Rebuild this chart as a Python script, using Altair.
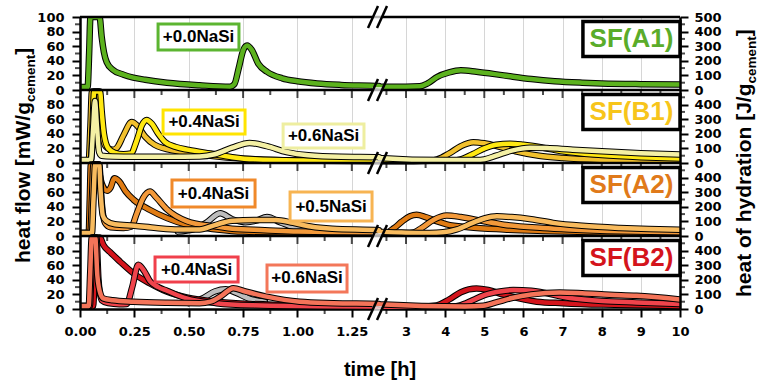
import altair as alt
import pandas as pd

FONT = "Liberation Sans"
TICK_FONT = "DejaVu Sans"

# ---------------- data: time [h] / heat flow [mW/g_cement] ----------------
# SF(A1) +0.0NaSi
a1_00_t = [0, 0.035, 0.042, 0.048, 0.09, 0.1, 0.11, 0.123, 0.15, 0.2, 0.245, 0.3, 0.4, 0.55, 0.69,
           0.71, 0.73, 0.75, 0.768, 0.79, 0.82, 0.86, 0.93, 1.0, 1.09, 1.2, 1.375,
           2.31, 3.0, 3.35, 3.55, 3.8, 4.1, 4.4, 4.8, 5.5, 6.2, 6.8, 7.5, 8.0, 9.0, 10]
a1_00_v = [4, 4, 50, 100, 100, 72, 52, 38, 28, 21, 17, 14, 10, 6.5, 4.5,
           8, 30, 54, 61, 55, 36, 25, 16, 12, 9, 7, 5.5,
           4.5, 4.5, 5, 9, 18, 24, 27, 25, 20, 15, 12, 10, 9, 8, 7.5]

# SF(B1)
b1_00_t = [0, 0.04, 0.048, 0.055, 0.085, 0.095, 0.105, 0.12, 0.15, 0.17, 0.2, 0.238, 0.26, 0.3, 0.343,
           0.45, 0.6, 0.75, 0.9, 1.1, 1.375,
           2.31, 3.2, 3.6, 3.8, 4.1, 4.4, 4.72, 5.0, 5.4, 5.8, 6.4, 7.0, 8.0, 9.0, 10]
b1_00_v = [3, 3, 50, 98, 98, 60, 35, 22, 18, 21, 38, 56, 52, 36, 25,
           16, 10, 6, 4, 3, 2.5,
           2.5, 2.5, 3, 5, 13, 23, 28.5, 27, 22, 16, 10, 7, 4.5, 3.5, 3]
b1_04_t = [0, 0.05, 0.058, 0.065, 0.092, 0.1, 0.11, 0.13, 0.16, 0.2, 0.235, 0.26, 0.285, 0.306, 0.33,
           0.36, 0.39, 0.44, 0.5, 0.6, 0.7, 0.8, 1.0, 1.375,
           2.31, 3.5, 4.2, 4.4, 4.7, 5.0, 5.3, 5.66, 6.0, 6.5, 7.0, 8.0, 9.0, 10]
b1_04_v = [3, 3, 50, 98, 98, 70, 40, 20, 14, 12, 13, 30, 52, 59, 54,
           40, 29, 22, 18, 13, 8, 5, 3.5, 3,
           3, 3, 3.5, 5, 12, 20, 25, 26.5, 25, 21, 16, 11, 8, 6]
b1_06_t = [0, 0.05, 0.06, 0.069, 0.078, 0.088, 0.1, 0.15, 0.25, 0.4, 0.55, 0.62, 0.7, 0.78, 0.86,
           0.95, 1.05, 1.2, 1.375,
           2.31, 4.0, 4.8, 5.0, 5.3, 5.7, 6.17, 6.6, 7.2, 8.0, 9.0, 10]
b1_06_v = [4, 4, 45, 85, 50, 15, 10, 9, 8.5, 8.5, 9, 12, 21, 27.5, 23,
           15, 10.5, 8.5, 8,
           7, 4, 4, 5, 10, 17, 21, 20.5, 18.5, 16, 13.5, 11.5]

# SF(A2)
a2_ref_t = [0.45, 0.52, 0.58, 0.645, 0.7, 0.76, 0.81, 0.86, 0.92, 1.0, 1.1]
a2_ref_v = [6, 9, 18, 31, 23, 19, 21, 26, 19, 10, 6]
a2_00_t = [0, 0.04, 0.045, 0.05, 0.08, 0.09, 0.1, 0.125, 0.14, 0.158, 0.18, 0.21, 0.245, 0.32, 0.4,
           0.49, 0.63, 0.75, 1.0, 1.375,
           2.31, 2.5, 2.7, 2.9, 3.1, 3.27, 3.5, 3.8, 4.04, 4.6, 5.5, 6.5, 8.0, 10]
a2_00_v = [4, 4, 50, 98, 98, 85, 72, 62, 66, 79, 75, 61, 50, 36, 24.5,
           15.5, 9, 6, 5, 4.5,
           4, 4.5, 11, 20, 27, 29, 26, 20, 16, 12, 9, 7, 5, 4]
a2_04_t = [0, 0.048, 0.055, 0.062, 0.088, 0.1, 0.115, 0.14, 0.2, 0.237, 0.26, 0.29, 0.322, 0.35, 0.4,
           0.49, 0.61, 0.7, 0.85, 1.0, 1.375,
           2.31, 3.0, 3.2, 3.4, 3.7, 4.04, 4.4, 5.0, 5.5, 6.5, 7.2, 8.5, 10]
a2_04_v = [4, 4, 50, 98, 98, 45, 18, 12, 11, 13, 30, 52, 61, 53, 36.5,
           20.5, 13.5, 10, 8, 6, 5,
           4, 4, 5, 11, 22, 28, 26, 20, 15.5, 11, 9, 6.5, 5]
a2_05_t = [0, 0.055, 0.062, 0.07, 0.088, 0.095, 0.105, 0.12, 0.16, 0.25, 0.35, 0.45, 0.55, 0.62, 0.7,
           0.8, 0.9, 0.98, 1.06, 1.16, 1.375,
           2.31, 3.0, 3.6, 3.95, 4.3, 4.7, 5.0, 5.32, 5.7, 6.2, 6.76, 7.5, 8.46, 9.2, 10]
a2_05_v = [4, 4, 50, 98, 98, 60, 28, 21, 16, 14, 11, 9, 9, 15, 21,
           22, 22, 18, 13, 10, 8,
           6, 4.5, 4, 5, 9, 18, 24, 27, 26, 23, 18, 14, 11, 9.5, 8.5]

# SF(B2)
b2_ref_t = [0.5, 0.56, 0.62, 0.67, 0.72, 0.78, 0.85]
b2_ref_v = [8, 14, 24, 27, 22, 14, 10]
b2_00_t = [0, 0.06, 0.068, 0.076, 0.092, 0.107, 0.138, 0.184, 0.245, 0.322, 0.398, 0.49, 0.628, 0.78, 1.0, 1.375,
           2.31, 3.4, 3.78, 4.1, 4.4, 4.8, 5.1, 5.48, 6.34, 7.0, 8.03, 9.0, 10]
b2_00_v = [4, 4, 50, 98, 98, 88, 78, 65, 49, 35, 24, 16, 10, 7, 5, 4,
           3.5, 3.5, 5, 13, 23, 28, 26, 20, 10, 8, 6, 5, 4]
b2_04_t = [0, 0.045, 0.052, 0.06, 0.075, 0.085, 0.1, 0.13, 0.18, 0.215, 0.24, 0.268, 0.295, 0.322, 0.36,
           0.4, 0.49, 0.628, 0.8, 1.0, 1.375,
           2.31, 3.8, 4.2, 4.38, 4.7, 5.0, 5.4, 5.74, 6.2, 7.19, 8.0, 8.89, 10]
b2_04_v = [4, 4, 50, 98, 98, 40, 12, 8, 6.5, 7, 30, 60.5, 52, 38, 30,
           25, 14.5, 8, 5, 4, 3.5,
           3, 3, 3.5, 5, 12, 19, 24, 26, 25, 15, 11, 9, 7]
b2_06_t = [0, 0.04, 0.047, 0.054, 0.07, 0.08, 0.095, 0.107, 0.15, 0.245, 0.4, 0.55, 0.6, 0.65, 0.705,
           0.76, 0.858, 1.01, 1.165, 1.375,
           2.31, 4.5, 4.97, 5.3, 5.7, 6.2, 6.93, 7.5, 8.2, 8.89, 10]
b2_06_v = [4, 4, 50, 98, 98, 45, 20, 14.5, 12, 10, 8.5, 8, 10, 18, 28.5,
           24, 17, 10, 8, 7,
           6.5, 3.5, 4.5, 9, 15, 20, 22.5, 21.5, 19.5, 18, 13]

# ---------------- labels ----------------
panel_names = ["SF(A1)", "SF(B1)", "SF(A2)", "SF(B2)"]
panel_keys = ["A1", "B1", "A2", "B2"]
panel_offset = {"A1": 300, "B1": 200, "A2": 100, "B2": 0}

nasi_text = ["+0.0NaSi", "+0.4NaSi", "+0.6NaSi", "+0.4NaSi", "+0.5NaSi", "+0.4NaSi", "+0.6NaSi"]
nasi_panel = ["A1", "B1", "B1", "A2", "A2", "B2", "B2"]

x_major = [0, 0.25, 0.5, 0.75, 1.0, 1.25, 3, 4, 5, 6, 7, 8, 9, 10]
x_minor = [0.125, 0.375, 0.625, 0.875, 1.125, 2.5, 3.5, 4.5, 5.5, 6.5, 7.5, 8.5, 9.5]
y_major = list(range(0, 401, 20))
y_minor = list(range(10, 400, 20))

# ---------------- styling / layout ----------------
series = [
    ("A1", a1_00_t, a1_00_v, "#5cb21e"),
    ("B1", b1_00_t, b1_00_v, "#f2c12e"),
    ("B1", b1_04_t, b1_04_v, "#ffe812"),
    ("B1", b1_06_t, b1_06_v, "#f4f0a4"),
    ("A2", a2_ref_t, a2_ref_v, "#bdbdbd"),
    ("A2", a2_00_t, a2_00_v, "#e07c14"),
    ("A2", a2_04_t, a2_04_v, "#f3993a"),
    ("A2", a2_05_t, a2_05_v, "#f8bb5e"),
    ("B2", b2_ref_t, b2_ref_v, "#bdbdbd"),
    ("B2", b2_00_t, b2_00_v, "#d4141c"),
    ("B2", b2_04_t, b2_04_v, "#f0444c"),
    ("B2", b2_06_t, b2_06_v, "#f47459"),
]
for _, t, v, _c in series:
    assert len(t) == len(v), (len(t), len(v))

panel_colors = ["#5aac2a", "#f7c51b", "#e07a1a", "#d4141c"]
nasi_border = ["#5cb531", "#ffe400", "#eeeea0", "#f0892a", "#f7b452", "#f0404c", "#f3775a"]
nasi_t0 = [0.359, 0.382, 0.934, 0.423, 0.966, 0.345, 0.86]
nasi_t1 = [0.731, 0.759, 1.306, 0.805, 1.343, 0.727, 1.228]
nasi_v0 = [54.8, 39.7, 20.5, 39.7, 20.5, 37, 23.3]
nasi_v1 = [90.4, 72.6, 53.4, 76.7, 60.3, 71.2, 60.3]

x_scale = alt.Scale(domain=[0, 1.375, 2.31, 10], range=[0, 299, 299, 600], zero=False, nice=False)
y_scale = alt.Scale(domain=[0, 400], zero=False, nice=False)

lab_common = dict(labelFont=TICK_FONT, labelFontSize=13, labelFontWeight="bold", labelColor="black",
                  labelOverlap=False, labelFlush=False, domainColor="black", domainWidth=2.5,
                  tickColor="black", tickWidth=2, title=None)
x_axis = alt.Axis(values=x_major,
                  labelExpr="datum.value < 2 ? format(datum.value, '.2f') : format(datum.value, 'd')",
                  grid=True, gridColor="#d6d6d6", gridWidth=1, tickSize=8, labelPadding=8, **lab_common)
yl_axis = alt.Axis(values=y_major, orient="left",
                   labelExpr="datum.value == 400 ? '100' : format(datum.value % 100, 'd')",
                   grid=False, tickSize=8, labelPadding=8, zindex=1, **lab_common)
yr_axis = alt.Axis(values=y_major, orient="right",
                   labelExpr="datum.value == 400 ? '500' : format((datum.value % 100) * 5, 'd')",
                   grid=False, tickSize=8, labelPadding=6, zindex=1, **lab_common)


def xenc(field="t"):
    return alt.X(f"{field}:Q", scale=x_scale, axis=x_axis)


def yenc(field="y"):
    return alt.Y(f"{field}:Q", scale=y_scale, axis=yl_axis)


L = []
# curves: black outline then coloured band
for panel, t, v, col in series:
    df = pd.DataFrame({"t": t, "v": v, "off": panel_offset[panel]})
    base = alt.Chart(df).transform_calculate(y="datum.v + datum.off").encode(x=xenc(), y=yenc())
    L.append(base.mark_line(color="black", strokeWidth=6.5, interpolate="monotone", clip=True,
                            strokeJoin="round", strokeCap="round"))
    L.append(base.mark_line(color=col, strokeWidth=4.5, interpolate="monotone", clip=True,
                            strokeJoin="round", strokeCap="round"))

# panel borders
border_df = pd.DataFrame({"y": [100, 200, 300, 400], "t": 0, "t2": 10})
L.append(alt.Chart(border_df).mark_rule(color="black", strokeWidth=2.5)
         .encode(x=xenc(), x2="t2:Q", y=yenc()))

# ticks at the panel boundaries (pointing down) and minor ticks
bmaj = pd.DataFrame([(t, y) for y in [100, 200, 300] for t in x_major if 0 < t < 10], columns=["t", "y"])
L.append(alt.Chart(bmaj).mark_tick(orient="vertical", size=8, thickness=2, color="black", yOffset=4)
         .encode(x=xenc(), y=yenc()))
bmin = pd.DataFrame([(t, y) for y in [0, 100, 200, 300] for t in x_minor], columns=["t", "y"])
L.append(alt.Chart(bmin).mark_tick(orient="vertical", size=5, thickness=2, color="black", yOffset=2.5)
         .encode(x=xenc(), y=yenc()))
lmin = pd.DataFrame({"t": 0, "y": y_minor})
L.append(alt.Chart(lmin).mark_tick(orient="horizontal", size=5, thickness=2, color="black", xOffset=-2.5)
         .encode(x=xenc(), y=yenc()))

# axis break marks
brk = pd.DataFrame({"t": 1.375, "y": [0, 100, 200, 300, 400]})
L.append(alt.Chart(brk).mark_tick(orient="horizontal", size=10, thickness=6, color="white", xOffset=-1.5)
         .encode(x=xenc(), y=yenc()))
for xo, x2o in [(-11, -1), (-2, 8)]:
    L.append(alt.Chart(brk).mark_rule(color="black", strokeWidth=2.5, xOffset=xo, x2Offset=x2o,
                                      yOffset=11, y2Offset=-11)
             .encode(x=xenc(), x2="t:Q", y=yenc(), y2="y:Q"))

# NaSi label boxes
nasi_df = pd.DataFrame({"label": nasi_text, "t0": nasi_t0, "t1": nasi_t1, "v0": nasi_v0, "v1": nasi_v1,
                        "off": [panel_offset[p] for p in nasi_panel], "col": nasi_border})
nb = alt.Chart(nasi_df).transform_calculate(
    y0="datum.v0 + datum.off", y1="datum.v1 + datum.off",
    tc="(datum.t0 + datum.t1) / 2", yc="(datum.v0 + datum.v1) / 2 + datum.off")
L.append(nb.mark_rect(fill="white", strokeWidth=3)
         .encode(x=xenc("t0"), x2="t1:Q", y=yenc("y0"), y2="y1:Q", stroke=alt.Stroke("col:N", scale=None)))
L.append(nb.mark_text(font=FONT, fontSize=17, fontWeight="bold", color="black")
         .encode(x=xenc("tc"), y=yenc("yc"), text="label:N"))

# SF panel name boxes
sf_df = pd.DataFrame({"name": panel_names, "t0": 7.52, "t1": 10.0, "v0": 46, "v1": 94,
                      "off": [panel_offset[k] for k in panel_keys], "col": panel_colors})
sb = alt.Chart(sf_df).transform_calculate(
    y0="datum.v0 + datum.off", y1="datum.v1 + datum.off",
    tc="(datum.t0 + datum.t1) / 2", yc="(datum.v0 + datum.v1) / 2 + datum.off")
L.append(sb.mark_rect(fill="white", stroke="black", strokeWidth=3.5)
         .encode(x=xenc("t0"), x2="t1:Q", y=yenc("y0"), y2="y1:Q"))
L.append(sb.mark_text(font=FONT, fontSize=26, fontWeight="bold")
         .encode(x=xenc("tc"), y=yenc("yc"), text="name:N", color=alt.Color("col:N", scale=None)))

# axis titles (with subscripts)
one = pd.DataFrame({"k": [0]})


def txt(s, x, y, size, angle=270, align="left"):
    return alt.Chart(one).mark_text(text=s, angle=angle, align=align, baseline="alphabetic", font=FONT,
                                    fontSize=size, fontWeight="bold", color="black").encode(
        x=alt.value(x), y=alt.value(y))


L.append(txt("heat flow [mW/g", -50, 246, 21))
L.append(txt("cement", -45.5, 85, 13.5))
L.append(txt("]", -50, 37.7, 21))
L.append(txt("heat of hydration [J/g", 671, 280, 21))
L.append(txt("cement", 675.5, 66.5, 13.5))
L.append(txt("]", 671, 19.2, 21))
L.append(txt("time [h]", 300, 359, 20, angle=0, align="center"))

left = alt.layer(*L)

right = alt.Chart(pd.DataFrame({"t": 10, "y": y_minor})).mark_tick(
    orient="horizontal", size=5, thickness=2, color="black", xOffset=2.5
).encode(x=xenc(), y=alt.Y("y:Q", scale=y_scale, axis=yr_axis))

chart = alt.layer(left, right).resolve_scale(y="independent").properties(
    width=600, height=292,
    padding={"left": 80, "top": 17, "right": 77, "bottom": 74},
    autosize=alt.AutoSizeParams(type="none"),
    background="white",
).configure_view(stroke=None)

chart.save("out.html", embed_options={"renderer": "svg", "actions": False})
